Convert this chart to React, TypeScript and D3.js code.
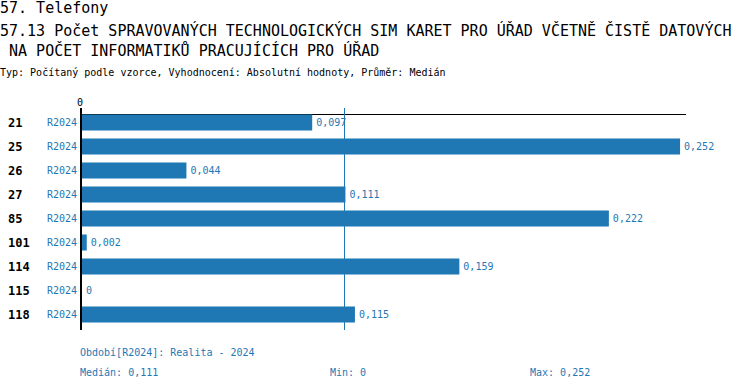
import { scaleBand, scaleLinear } from "d3";

const ids = ["21", "25", "26", "27", "85", "101", "114", "115", "118"];
const period = "R2024";
const values = [0.097, 0.252, 0.044, 0.111, 0.222, 0.002, 0.159, 0, 0.115];
const median = 0.111;
const minVal = 0;
const maxVal = 0.252;

const BLUE = "#1f77b4";
const MONO = "'DejaVu Sans Mono', monospace";

const fmt = (v: number) => String(v).replace(".", ",");

export default function App() {
  const x = scaleLinear().domain([0, 0.2545]).range([82, 686]);
  const y = scaleBand<string>().domain(ids).range([110, 326]).paddingInner(1 / 3).paddingOuter(1 / 6);
  const bw = y.bandwidth();

  return (
    <svg width={750} height={390} style={{ position: "absolute", left: 0, top: 0, background: "#fff" }} fontFamily={MONO}>
      <text x={0} y={13} fontSize={15}>57. Telefony</text>
      <text x={0} y={36} fontSize={15}>57.13 Počet SPRAVOVANÝCH TECHNOLOGICKÝCH SIM KARET PRO ÚŘAD VČETNĚ ČISTĚ DATOVÝCH</text>
      <text x={0} y={56} fontSize={15} xmlSpace="preserve"> NA POČET INFORMATIKŮ PRACUJÍCÍCH PRO ÚŘAD</text>
      <text x={0} y={76} fontSize={10}>Typ: Počítaný podle vzorce, Vyhodnocení: Absolutní hodnoty, Průměr: Medián</text>

      {/* top axis */}
      <line x1={x(0)} x2={686} y1={114.5} y2={114.5} stroke="#000" strokeWidth={1} />
      <text x={x(0) - 2} y={106} fontSize={10} textAnchor="middle">0</text>

      {/* bars */}
      {ids.map((id, i) => {
        const yy = (y(id) ?? 0) + 0.5;
        const cy = yy + bw / 2;
        const v = values[i];
        return (
          <g key={id}>
            <text x={8} y={cy} dy="0.35em" fontSize={12} fontWeight="bold">{id}</text>
            <text x={77} y={cy} dy="0.35em" fontSize={10} fill={BLUE} textAnchor="end">{period}</text>
            <rect x={x(0)} y={yy} width={x(v) - x(0)} height={bw} fill={BLUE} />
            <text x={x(v) + 4} y={cy} dy="0.35em" fontSize={10} fill={BLUE}>{fmt(v)}</text>
          </g>
        );
      })}

      {/* median line */}
      <line x1={344.5} x2={344.5} y1={108} y2={330} stroke={BLUE} strokeWidth={1} />
      {/* zero axis */}
      <line x1={81} x2={81} y1={108} y2={330} stroke="#000" strokeWidth={2} />

      <text x={80} y={356} fontSize={10} fill={BLUE}>Období[R2024]: Realita - 2024</text>
      <text x={80} y={376} fontSize={10} fill={BLUE}>Medián: {fmt(median)}</text>
      <text x={330} y={376} fontSize={10} fill={BLUE}>Min: {fmt(minVal)}</text>
      <text x={530} y={376} fontSize={10} fill={BLUE}>Max: {fmt(maxVal)}</text>
    </svg>
  );
}
